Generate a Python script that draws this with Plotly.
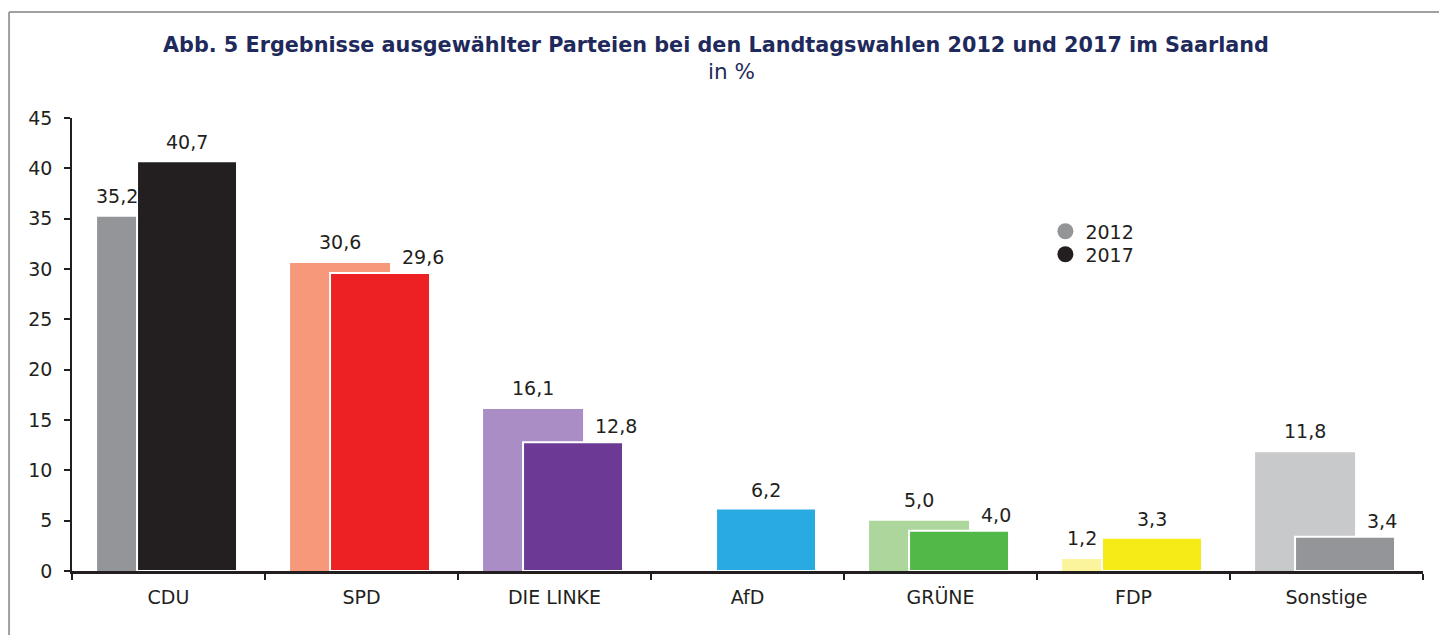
import plotly.graph_objects as go

parties = ["CDU", "SPD", "DIE LINKE", "AfD", "GRÜNE", "FDP", "Sonstige"]
v2012 = [35.2, 30.6, 16.1, None, 5.0, 1.2, 11.8]
v2017 = [40.7, 29.6, 12.8, 6.2, 4.0, 3.3, 3.4]
col2012 = ["#939598", "#f5997a", "#a98dc4", "#ffffff", "#acd69b", "#fbf49c", "#c8c9cb"]
col2017 = ["#231f20", "#ed2024", "#6c3a94", "#29abe2", "#52b848", "#f6eb16", "#939598"]
y_ticks = [0, 5, 10, 15, 20, 25, 30, 35, 40, 45]

FONT = "Verdana, DejaVu Sans, sans-serif"
TXT = "#231f20"
NAVY = "#1f2a5c"
FS = 19

W_BAR = 0.518
OFF12 = -0.37
OFF17 = -0.163

def fmt(v):
    return f"{v:.1f}".replace(".", ",")

fig = go.Figure()
fig.add_trace(go.Bar(x=parties, y=v2012, width=W_BAR, offset=OFF12,
                     marker=dict(color=col2012, line=dict(width=0)),
                     showlegend=False, hoverinfo="skip"))
fig.add_trace(go.Bar(x=parties, y=v2017, width=W_BAR, offset=OFF17,
                     marker=dict(color=col2017, line=dict(color="white", width=2)),
                     showlegend=False, hoverinfo="skip"))

# legend entries (two separate legends for tighter spacing)
fig.add_trace(go.Scatter(x=[None], y=[None], mode="markers", name="2012", legend="legend",
                         marker=dict(symbol="circle", size=20, color="#939598")))
fig.add_trace(go.Scatter(x=[None], y=[None], mode="markers", name="2017", legend="legend2",
                         marker=dict(symbol="circle", size=20, color="#231f20")))

annotations = []
for i, p in enumerate(parties):
    a, b = v2012[i], v2017[i]
    if a is not None:
        if b is not None and a < b:
            xo = OFF12 + (OFF17 - OFF12) / 2
        else:
            xo = OFF12 + W_BAR / 2
        annotations.append(dict(x=i + xo, y=a, xref="x", yref="y", text=fmt(a),
                                showarrow=False, yanchor="bottom", xanchor="center",
                                yshift=8, font=dict(family=FONT, size=FS, color=TXT)))
    if b is not None:
        if a is not None and a > b:
            annotations.append(dict(x=i + 0.197, y=b, xref="x", yref="y", text=fmt(b),
                                    showarrow=False, yanchor="bottom", xanchor="left",
                                    yshift=3, font=dict(family=FONT, size=FS, color=TXT)))
        else:
            annotations.append(dict(x=i + OFF17 + W_BAR / 2, y=b, xref="x", yref="y", text=fmt(b),
                                    showarrow=False, yanchor="bottom", xanchor="center",
                                    yshift=6, font=dict(family=FONT, size=FS, color=TXT)))

annotations.append(dict(x=0.4767, y=1.0, xref="paper", yref="paper", yanchor="middle",
                        yshift=73, showarrow=False,
                        text="<b>Abb. 5 Ergebnisse ausgewählter Parteien bei den Landtagswahlen 2012 und 2017 im Saarland</b>",
                        font=dict(family=FONT, size=20.75, color=NAVY)))
annotations.append(dict(x=0.4878, y=1.0, xref="paper", yref="paper", yanchor="middle",
                        yshift=47, showarrow=False, text="in %",
                        font=dict(family=FONT, size=21.5, color=NAVY)))

shapes = [
    dict(type="line", xref="paper", yref="paper", x0=-0.0466, x1=1.05, y0=1.234, y1=1.234,
         line=dict(color="#a0a0a0", width=2)),
    dict(type="line", xref="paper", yref="paper", x0=-0.0466, x1=-0.0466, y0=1.234, y1=-0.2,
         line=dict(color="#a0a0a0", width=2)),
]

leg_common = dict(xanchor="left", yanchor="top", font=dict(family=FONT, size=FS, color=TXT),
                  bgcolor="rgba(0,0,0,0)", itemsizing="trace")

fig.update_layout(
    width=1439, height=627,
    margin=dict(l=64, r=24, t=110, b=64),
    paper_bgcolor="white", plot_bgcolor="white",
    barmode="overlay",
    font=dict(family=FONT, size=FS, color=TXT),
    annotations=annotations,
    shapes=shapes,
    showlegend=True,
    legend=dict(x=0.7205, y=0.7916, **leg_common),
    legend2=dict(x=0.7205, y=0.7408, **leg_common),
    xaxis=dict(type="category", range=[-0.5, 6.5], showgrid=False, zeroline=False,
               showline=True, linecolor=TXT, linewidth=2.5,
               ticks="outside", tickson="boundaries", ticklen=6, tickwidth=1.5, tickcolor=TXT,
               ticklabelstandoff=7,
               tickfont=dict(family=FONT, size=FS, color=TXT)),
    yaxis=dict(range=[0, 45], tickvals=y_ticks, showgrid=False, zeroline=False,
               showline=True, linecolor=TXT, linewidth=1.5,
               ticks="outside", ticklen=6, tickwidth=1.5, tickcolor=TXT,
               ticklabelstandoff=8,
               tickfont=dict(family=FONT, size=FS, color=TXT)),
)

fig.write_html("out.html")
